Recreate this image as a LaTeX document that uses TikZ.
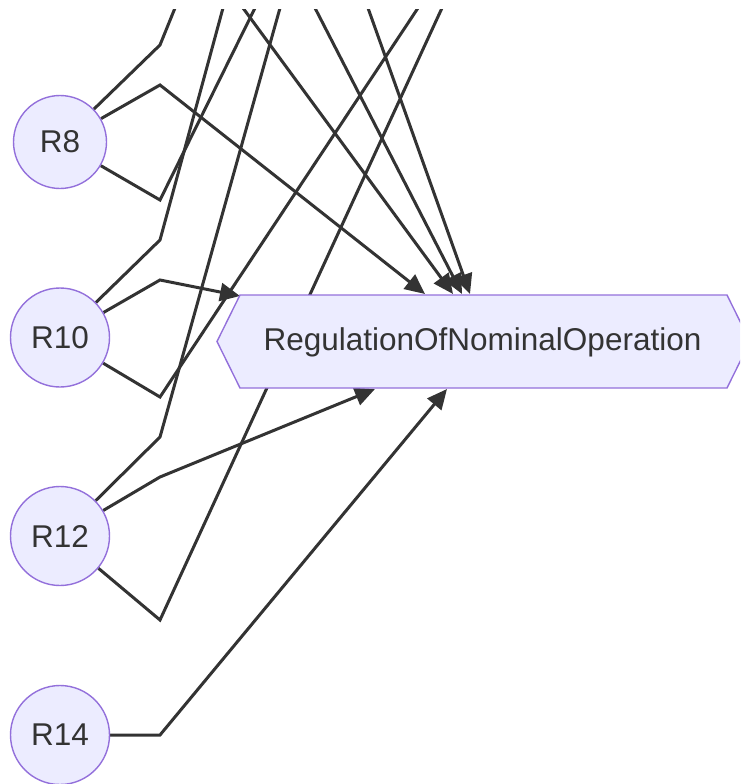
\documentclass[tikz,border=0pt]{standalone}
\usepackage{fontspec}
\setmainfont{Liberation Sans}
\usetikzlibrary{arrows.meta,backgrounds}
\definecolor{nodefill}{HTML}{ECECFF}
\definecolor{nodeline}{HTML}{9370DB}
\definecolor{edgecol}{HTML}{333333}
\begin{document}
\begin{tikzpicture}[x=1pt,y=-1pt,
  rnode/.style={circle,draw=nodeline,fill=nodefill,line width=1.4pt,text=edgecol,
    font=\fontsize{31.5}{36}\selectfont,inner sep=0pt,minimum size=99pt},
  hexbox/.style={draw=nodeline,fill=nodefill,line width=1.4pt},
  edgeline/.style={draw=edgecol,line width=3pt,line join=miter},
  arrowline/.style={edgeline,-{Triangle[length=20pt,width=18pt]}}]
\useasboundingbox (0,0) rectangle (740,784);
\clip (0,0) rectangle (740,784);
% nodes
\node[rnode,minimum size=93pt] (r8) at (60,142) {R8};
\node[rnode] (r10) at (60,337.5) {R10};
\node[rnode] (r12) at (60,536) {R12};
\node[rnode] (r14) at (60,735) {R14};
\draw[hexbox] (217,341.5) -- (240,295) -- (727,295) -- (750,341.5) -- (727,388) -- (240,388) -- cycle;
\node[text=edgecol,font=\fontsize{31.5}{36}\selectfont,inner sep=0pt] (reg) at (482.5,342) {RegulationOfNominalOperation};
% bend points
\coordinate (b8u) at (160,45);  \coordinate (b8m) at (160,85);  \coordinate (b8l) at (160,200);
\coordinate (b10u) at (160,240); \coordinate (b10m) at (160,280); \coordinate (b10l) at (160,397);
\coordinate (b12u) at (160,437); \coordinate (b12m) at (160,477); \coordinate (b12l) at (160,620);
\coordinate (b14) at (160,735);
% free ends at the top
\coordinate (tA) at (175,8); \coordinate (tB) at (223,8); \coordinate (tC) at (243,8);
\coordinate (tD) at (255,8); \coordinate (tE) at (280,8); \coordinate (tF) at (315,8);
\coordinate (tG) at (368,8); \coordinate (tH) at (418,8); \coordinate (tI) at (442,8);
% arrow tips on the hexagon
\coordinate (a1) at (425,294); \coordinate (a2) at (453,294); \coordinate (a3) at (462,294);
\coordinate (a4) at (470,294); \coordinate (a5) at (240,296); \coordinate (a6) at (375,389);
\coordinate (a7) at (447,389);
\begin{scope}[on background layer]
\clip (0,10) rectangle (740,784);
\draw[edgeline] (r8) -- (b8u) -- (tA);
\draw[arrowline] (r8) -- (b8m) -- (a1);
\draw[edgeline] (r8) -- (b8l) -- (tD);
\draw[edgeline] (r10) -- (b10u) -- (tB);
\draw[arrowline] (r10) -- (b10m) -- (a5);
\draw[edgeline] (r10) -- (b10l) -- (tH);
\draw[edgeline] (r12) -- (b12u) -- (tE);
\draw[arrowline] (r12) -- (b12m) -- (a6);
\draw[edgeline] (r12) -- (b12l) -- (tI);
\draw[arrowline] (r14) -- (b14) -- (a7);
\draw[arrowline] (tC) -- (a2);
\draw[arrowline] (tF) -- (a3);
\draw[arrowline] (tG) -- (a4);
\end{scope}
\end{tikzpicture}
\end{document}
